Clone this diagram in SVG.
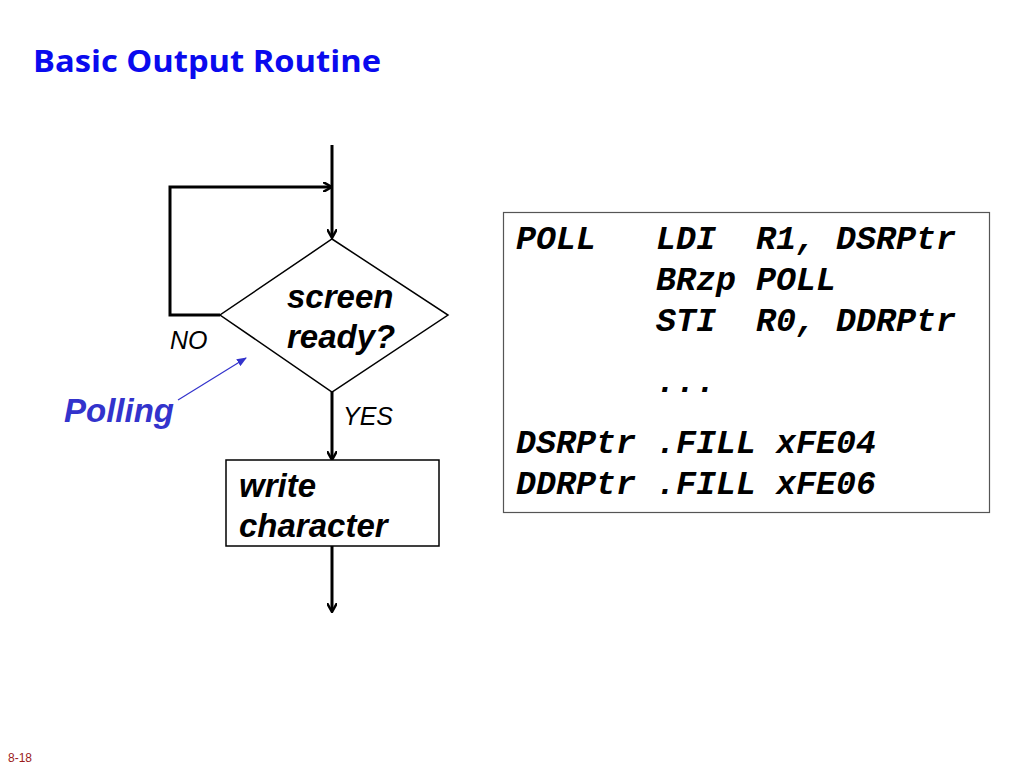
<svg xmlns="http://www.w3.org/2000/svg" width="1024" height="768" viewBox="0 0 1024 768">
<style>
.flow{fill:none;stroke:#000;stroke-width:3}
.shape{fill:#fff;stroke:#000;stroke-width:1.5}
.lbl{font-family:"Liberation Sans",Arial,sans-serif;font-style:italic;font-weight:bold;font-size:33px;fill:#000}
.yn{font-family:"Liberation Sans",Arial,sans-serif;font-style:italic;font-size:25px;fill:#000}
.code{font-family:"Liberation Mono","Courier New",monospace;font-style:italic;font-weight:bold;font-size:33.3px;fill:#000}
</style>
<defs>
<marker id="arr" markerWidth="10" markerHeight="10" refX="8" refY="5" orient="auto" markerUnits="userSpaceOnUse" viewBox="0 0 10 10">
<path d="M0,0 L9,5 L0,10" fill="none" stroke="#000" stroke-width="2.5"/>
</marker>
<marker id="barr" markerWidth="10" markerHeight="8" refX="9" refY="4" orient="auto" markerUnits="userSpaceOnUse" viewBox="0 0 10 8">
<path d="M0,0 L10,4 L0,8 Z" fill="#3333cc"/>
</marker>
</defs>
<rect width="1024" height="768" fill="#fff"/>
<text x="33" y="72" font-family="'Open Sans','Liberation Sans',sans-serif" font-weight="bold" font-size="31" fill="#0a0aee" textLength="348" lengthAdjust="spacingAndGlyphs">Basic Output Routine</text>
<g id="connectors">
<path class="flow" d="M332,145 L332,237" marker-end="url(#arr)"/>
<path class="flow" d="M220,315 L170,315 L170,187 L331,187" marker-end="url(#arr)"/>
<path class="flow" d="M332,392 L332,459" marker-end="url(#arr)"/>
<path class="flow" d="M332,546 L332,611" marker-end="url(#arr)"/>
<path d="M178,400 L246,358" fill="none" stroke="#3333cc" stroke-width="1.2" marker-end="url(#barr)"/>
</g>
<g id="decision">
<polygon class="shape" points="332,239 448,315 332,392 220,315"/>
<text class="lbl" x="287" y="308">screen</text>
<text class="lbl" x="287" y="348">ready?</text>
</g>
<g id="write">
<rect class="shape" x="226" y="460" width="213" height="86"/>
<text class="lbl" x="239" y="497">write</text>
<text class="lbl" x="239" y="537">character</text>
</g>
<g id="labels">
<text class="yn" x="170" y="349">NO</text>
<text class="yn" x="343" y="425">YES</text>
<text x="64" y="422" font-family="'Liberation Sans',Arial,sans-serif" font-style="italic" font-weight="bold" font-size="33" fill="#3333cc">Polling</text>
</g>
<g id="code">
<rect x="503.5" y="212.5" width="486" height="300" fill="#fff" stroke="#555" stroke-width="1.2"/>
<text class="code" y="249"><tspan x="516">POLL</tspan><tspan x="656">LDI</tspan><tspan x="756">R1,</tspan><tspan x="836">DSRPtr</tspan></text>
<text class="code" y="290"><tspan x="656">BRzp</tspan><tspan x="756">POLL</tspan></text>
<text class="code" y="331"><tspan x="656">STI</tspan><tspan x="756">R0,</tspan><tspan x="836">DDRPtr</tspan></text>
<text class="code" y="392"><tspan x="656">...</tspan></text>
<text class="code" y="453"><tspan x="516">DSRPtr</tspan><tspan x="656">.FILL</tspan><tspan x="776">xFE04</tspan></text>
<text class="code" y="494"><tspan x="516">DDRPtr</tspan><tspan x="656">.FILL</tspan><tspan x="776">xFE06</tspan></text>
</g>
<text x="8" y="762" font-family="'Liberation Sans',Arial,sans-serif" font-size="12" fill="#9b1b1b">8-18</text>
</svg>
